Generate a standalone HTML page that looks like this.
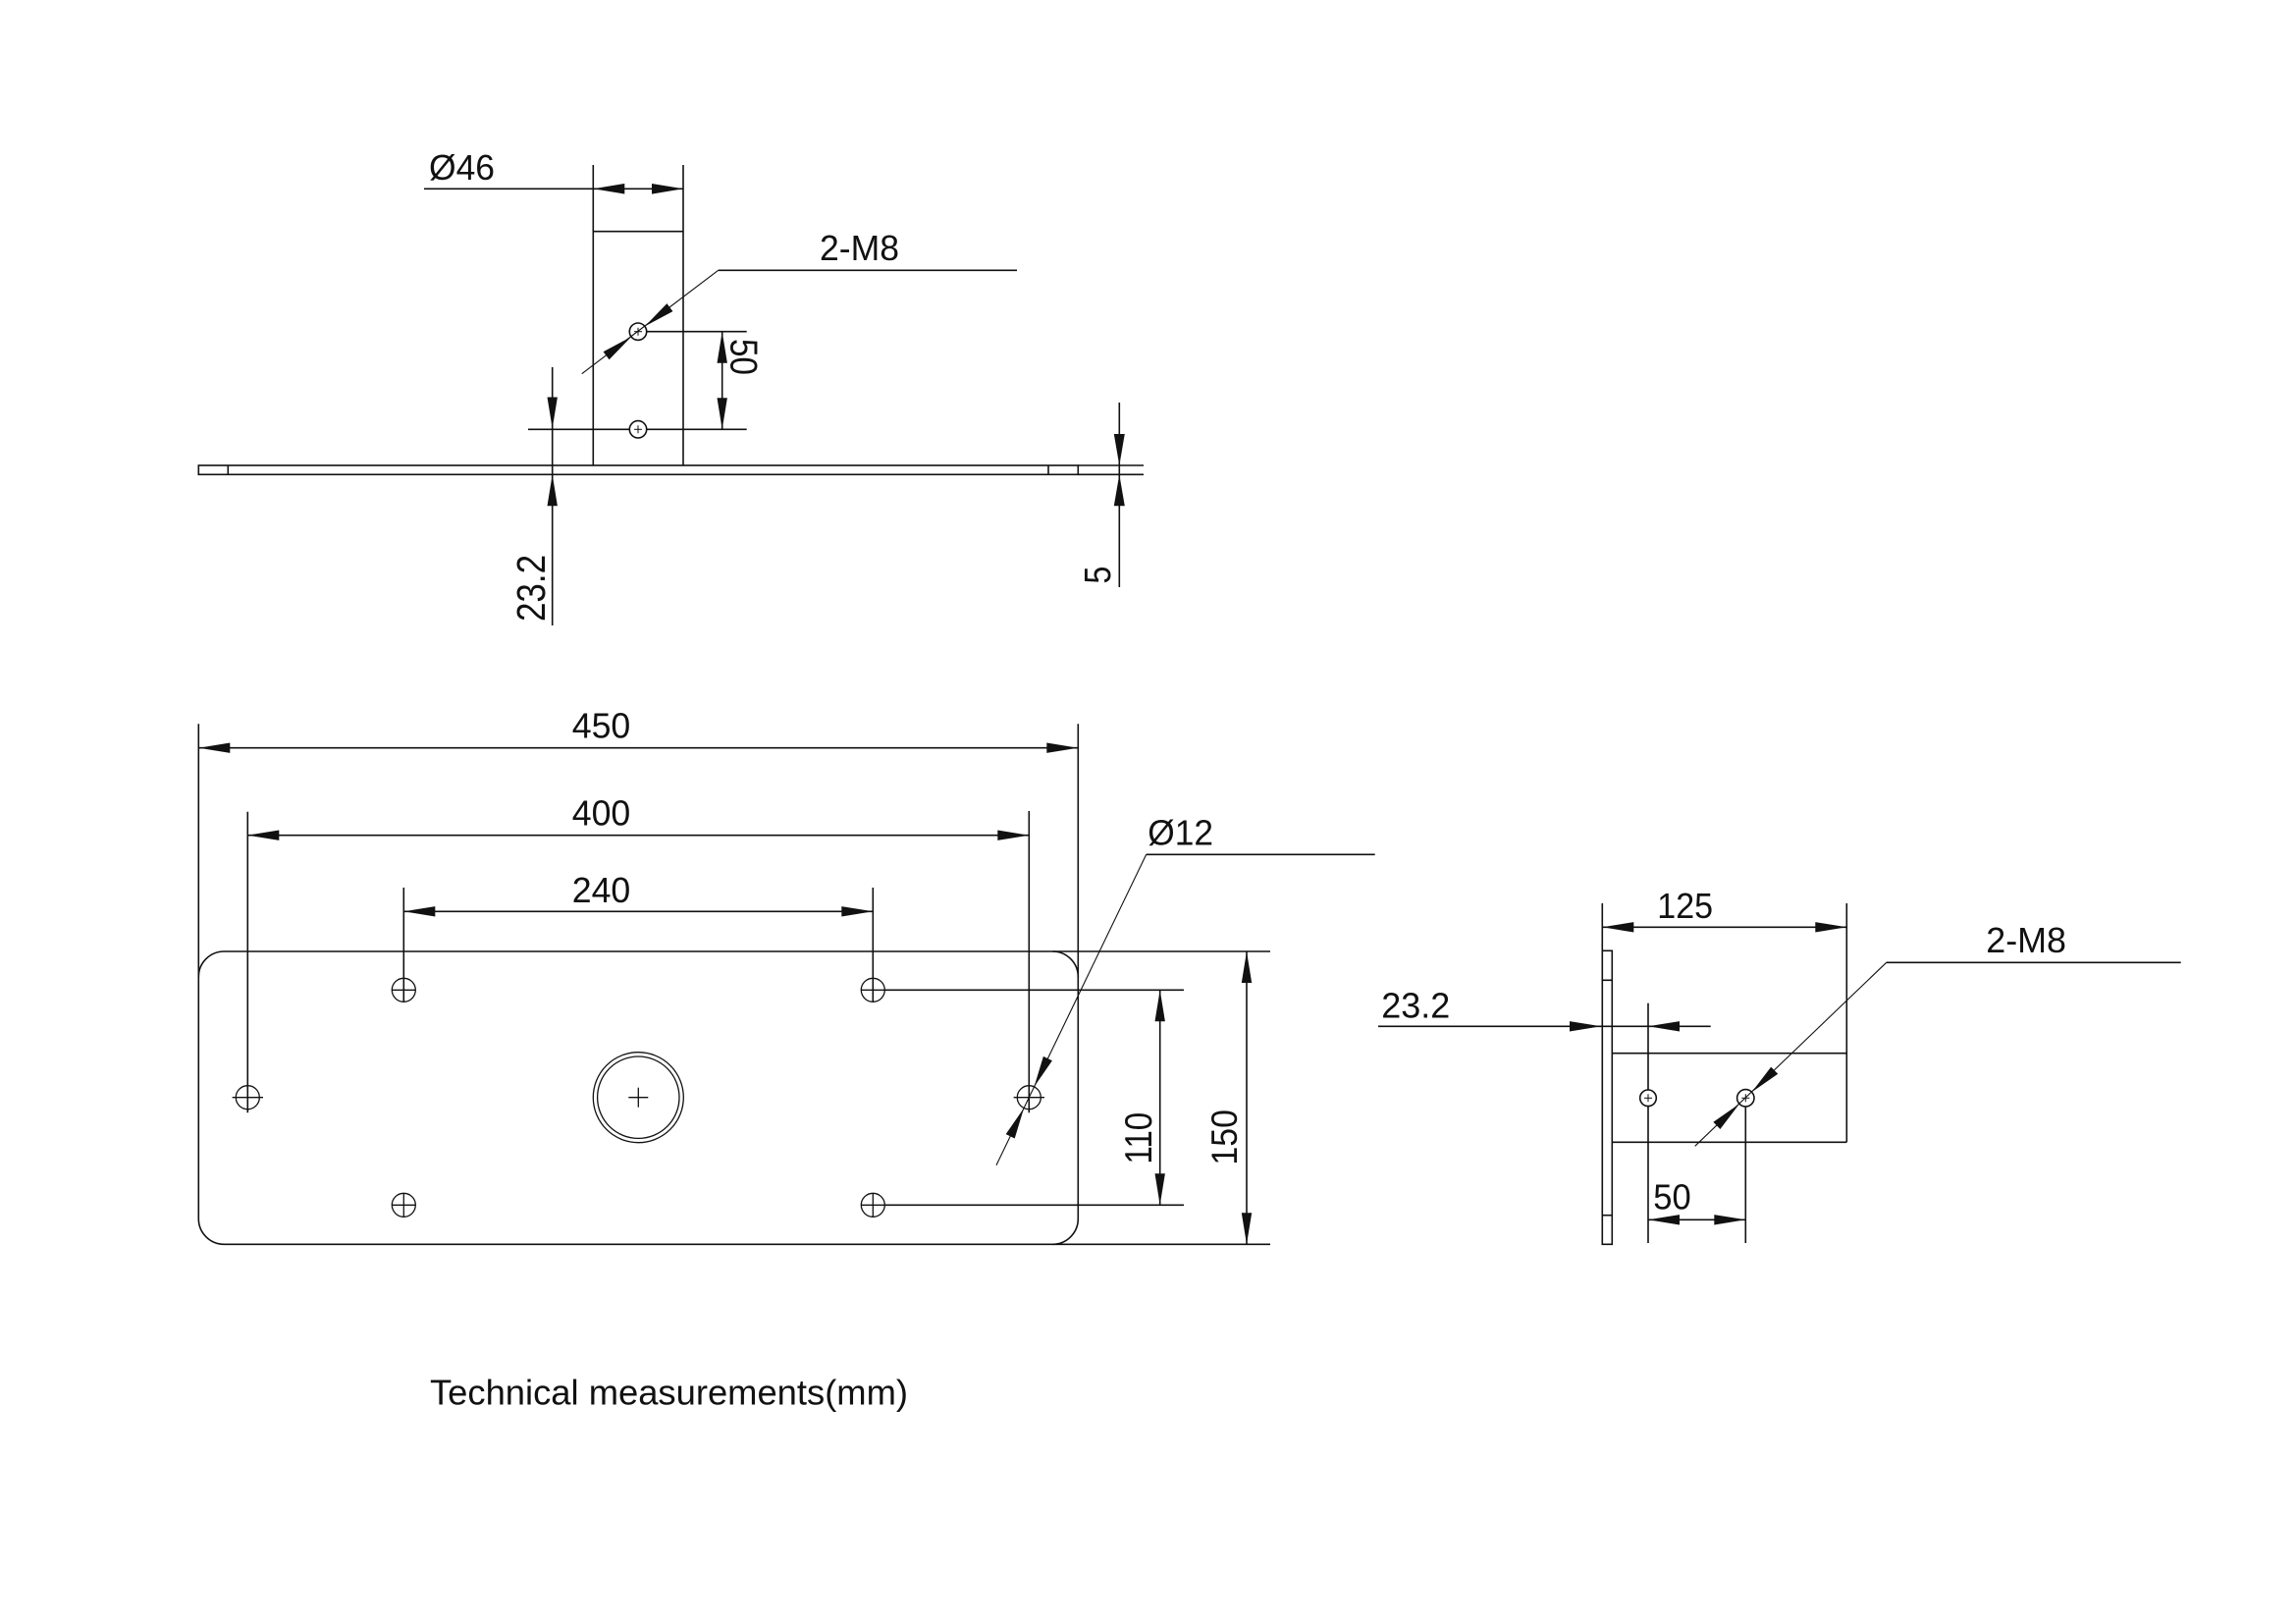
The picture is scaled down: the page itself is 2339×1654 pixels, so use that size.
<!DOCTYPE html>
<html>
<head>
<meta charset="utf-8">
<style>
  html, body { margin: 0; padding: 0; background: #fff; }
  svg { display: block; }
  text { font-family: "Liberation Sans", Arial, sans-serif; font-size: 35.7px; fill: #111; }
</style>
</head>
<body>
<svg width="2339" height="1654" viewBox="0 0 2339 1654" xmlns="http://www.w3.org/2000/svg">
<rect width="2339" height="1654" fill="#fff"/>
<g stroke="#111" stroke-width="1.6" fill="none">
  <!-- ===== TOP VIEW ===== -->
  <line x1="432" y1="192.3" x2="696" y2="192.3"/>
  <line x1="604.3" y1="168" x2="604.3" y2="474"/>
  <line x1="696" y1="168" x2="696" y2="474"/>
  <line x1="604.3" y1="235.7" x2="696" y2="235.7"/>
  <line x1="731.7" y1="275.3" x2="1036" y2="275.3"/>
  <line x1="731.7" y1="275.3" x2="592.7" y2="380.7" stroke-width="1.1"/>
  <circle cx="650" cy="337.7" r="8.7"/>
  <circle cx="650" cy="437.3" r="8.7"/>
  <g stroke-width="1">
    <line x1="646" y1="337.7" x2="654" y2="337.7"/><line x1="650" y1="333.7" x2="650" y2="341.7"/>
    <line x1="646" y1="437.3" x2="654" y2="437.3"/><line x1="650" y1="433.3" x2="650" y2="441.3"/>
  </g>
  <line x1="659" y1="337.7" x2="760.7" y2="337.7"/>
  <line x1="538" y1="437.3" x2="641.3" y2="437.3"/>
  <line x1="658.7" y1="437.3" x2="760.7" y2="437.3"/>
  <line x1="735.7" y1="337.7" x2="735.7" y2="437.3"/>
  <line x1="562.7" y1="374" x2="562.7" y2="637"/>
  <rect x="202.3" y="474" width="896" height="9.3"/>
  <line x1="1098.3" y1="474" x2="1165" y2="474"/>
  <line x1="1098.3" y1="483.3" x2="1165" y2="483.3"/>
  <line x1="232.3" y1="474" x2="232.3" y2="483.3"/>
  <line x1="1068" y1="474" x2="1068" y2="483.3"/>
  <line x1="1140.3" y1="410" x2="1140.3" y2="598"/>

  <!-- ===== PLAN VIEW ===== -->
  <path d="M228.3,969 H1072.3 A26,26 0 0 1 1098.3,995 V1241.3 A26,26 0 0 1 1072.3,1267.3 H228.3 A26,26 0 0 1 202.3,1241.3 V995 A26,26 0 0 1 228.3,969 Z"/>
  <line x1="202.3" y1="737.3" x2="202.3" y2="995"/>
  <line x1="1098.3" y1="737.3" x2="1098.3" y2="995"/>
  <line x1="1072.3" y1="969" x2="1294" y2="969"/>
  <line x1="1072.3" y1="1267.3" x2="1294" y2="1267.3"/>
  <line x1="202.3" y1="761.7" x2="1098.3" y2="761.7"/>
  <line x1="252.3" y1="850.7" x2="1048.3" y2="850.7"/>
  <line x1="252.3" y1="826.7" x2="252.3" y2="1133.3"/>
  <line x1="1048.3" y1="826" x2="1048.3" y2="1133.3"/>
  <line x1="411.3" y1="928.3" x2="889.3" y2="928.3"/>
  <line x1="411.3" y1="904" x2="411.3" y2="1020.3"/>
  <line x1="889.3" y1="904" x2="889.3" y2="1020.3"/>
  <g stroke-width="1.3">
    <circle cx="411.3" cy="1008.3" r="12"/>
    <circle cx="889.3" cy="1008.3" r="12"/>
    <circle cx="411.3" cy="1227.3" r="12"/>
    <circle cx="889.3" cy="1227.3" r="12"/>
    <circle cx="252.3" cy="1117.7" r="12"/>
    <circle cx="1048.3" cy="1117.7" r="12"/>
    <line x1="399.3" y1="1008.3" x2="423.3" y2="1008.3"/>
    <line x1="877.3" y1="1008.3" x2="901.3" y2="1008.3"/>
    <line x1="399.3" y1="1227.3" x2="423.3" y2="1227.3"/><line x1="411.3" y1="1215.3" x2="411.3" y2="1239.3"/>
    <line x1="877.3" y1="1227.3" x2="901.3" y2="1227.3"/><line x1="889.3" y1="1215.3" x2="889.3" y2="1239.3"/>
    <line x1="236.6" y1="1117.7" x2="268" y2="1117.7"/>
    <line x1="1032.6" y1="1117.7" x2="1064" y2="1117.7"/>
    <circle cx="650.3" cy="1117.7" r="46"/>
    <circle cx="650.3" cy="1117.7" r="41.7"/>
    <line x1="640.3" y1="1117.7" x2="660.3" y2="1117.7"/>
    <line x1="650.3" y1="1107.7" x2="650.3" y2="1127.7"/>
  </g>
  <line x1="901" y1="1008.3" x2="1206" y2="1008.3"/>
  <line x1="901" y1="1227.3" x2="1206" y2="1227.3"/>
  <line x1="1181.7" y1="1008.3" x2="1181.7" y2="1227.3"/>
  <line x1="1270" y1="969" x2="1270" y2="1267.3"/>
  <line x1="1167.7" y1="870.3" x2="1400.7" y2="870.3"/>
  <line x1="1167.7" y1="870.3" x2="1015" y2="1186.7" stroke-width="1.1"/>

  <!-- ===== RIGHT VIEW ===== -->
  <rect x="1632.3" y="968.3" width="10" height="299"/>
  <line x1="1632.3" y1="998.3" x2="1642.3" y2="998.3"/>
  <line x1="1632.3" y1="1237.7" x2="1642.3" y2="1237.7"/>
  <line x1="1632.3" y1="920" x2="1632.3" y2="968.3"/>
  <line x1="1881.3" y1="920" x2="1881.3" y2="1163.3"/>
  <line x1="1632.3" y1="944.3" x2="1881.3" y2="944.3"/>
  <line x1="1642.3" y1="1072.7" x2="1881.3" y2="1072.7"/>
  <line x1="1642.3" y1="1163.3" x2="1881.3" y2="1163.3"/>
  <line x1="1404" y1="1045.3" x2="1742.7" y2="1045.3"/>
  <line x1="1679" y1="1021.7" x2="1679" y2="1110"/>
  <line x1="1679" y1="1126.6" x2="1679" y2="1266"/>
  <line x1="1778.3" y1="1127" x2="1778.3" y2="1266"/>
  <circle cx="1679" cy="1118.3" r="8.3"/>
  <circle cx="1778.3" cy="1118.3" r="8.7"/>
  <g stroke-width="1">
    <line x1="1675" y1="1118.3" x2="1683" y2="1118.3"/><line x1="1679" y1="1114.3" x2="1679" y2="1122.3"/>
    <line x1="1774.3" y1="1118.3" x2="1782.3" y2="1118.3"/><line x1="1778.3" y1="1114.3" x2="1778.3" y2="1122.3"/>
  </g>
  <line x1="1679" y1="1242.3" x2="1778.3" y2="1242.3"/>
  <line x1="1921.7" y1="980.3" x2="2221.7" y2="980.3"/>
  <line x1="1921.7" y1="980.3" x2="1726.7" y2="1167.3" stroke-width="1.1"/>
</g>

<!-- ===== ARROWHEADS ===== -->
<g fill="#111" stroke="none">
  <!-- top view -->
  <polygon points="604.3,192.3 636.3,187 636.3,197.6"/>
  <polygon points="696,192.3 664,187 664,197.6"/>
  <polygon points="656.9,332.4 685.4,317.1 679.4,309.1"/>
  <polygon points="643.1,343 620.6,366.3 614.6,358.3"/>
  <polygon points="735.7,337.7 730.5,369.7 740.9,369.7"/>
  <polygon points="735.7,437.3 730.5,405.3 740.9,405.3"/>
  <polygon points="562.7,436.5 557.5,404.5 567.9,404.5"/>
  <polygon points="562.7,483.3 557.5,515.3 567.9,515.3"/>
  <polygon points="1140.3,474 1134.8,442 1145.8,442"/>
  <polygon points="1140.3,483.3 1134.8,515.3 1145.8,515.3"/>
  <!-- plan view -->
  <polygon points="202.3,761.7 234.3,756.5 234.3,766.9"/>
  <polygon points="1098.3,761.7 1066.3,756.5 1066.3,766.9"/>
  <polygon points="252.3,850.7 284.3,845.5 284.3,855.9"/>
  <polygon points="1048.3,850.7 1016.3,845.5 1016.3,855.9"/>
  <polygon points="411.3,928.3 443.3,923.1 443.3,933.5"/>
  <polygon points="889.3,928.3 857.3,923.1 857.3,933.5"/>
  <polygon points="1181.7,1008.3 1176.5,1040.3 1186.9,1040.3"/>
  <polygon points="1181.7,1227.3 1176.5,1195.3 1186.9,1195.3"/>
  <polygon points="1270,969 1264.8,1001 1275.2,1001"/>
  <polygon points="1270,1267.3 1264.8,1235.3 1275.2,1235.3"/>
  <polygon points="1053.5,1106.9 1071.9,1080.3 1062.9,1075.9"/>
  <polygon points="1043.1,1128.5 1033.7,1159.5 1024.7,1155.1"/>
  <!-- right view -->
  <polygon points="1632.3,944.3 1664.3,939.1 1664.3,949.5"/>
  <polygon points="1881.3,944.3 1849.3,939.1 1849.3,949.5"/>
  <polygon points="1631,1045.3 1599,1040.1 1599,1050.5"/>
  <polygon points="1679,1045.3 1711,1040.1 1711,1050.5"/>
  <polygon points="1679,1242.3 1711,1237.1 1711,1247.5"/>
  <polygon points="1778.3,1242.3 1746.3,1237.1 1746.3,1247.5"/>
  <polygon points="1784.6,1112.3 1811.2,1093.8 1804.2,1086.6"/>
  <polygon points="1772,1124.3 1752.4,1150 1745.4,1142.8"/>
</g>

<!-- ===== TEXT ===== -->
<text x="437" y="183" textLength="67" lengthAdjust="spacingAndGlyphs">Ø46</text>
<text x="835" y="265" textLength="81" lengthAdjust="spacingAndGlyphs">2-M8</text>
<g transform="translate(758.5,363.5) rotate(90) scale(0.93,1.1)"><text x="0" y="12.8" text-anchor="middle">50</text></g>
<g transform="translate(540.5,599) rotate(-90) scale(0.98,1.14)"><text x="0" y="12.8" text-anchor="middle">23.2</text></g>
<g transform="translate(1117.5,585.5) rotate(-90) scale(0.9,1.06)"><text x="0" y="12.8" text-anchor="middle">5</text></g>

<text x="612.5" y="751.7" text-anchor="middle">450</text>
<text x="612.5" y="840.7" text-anchor="middle">400</text>
<text x="612.5" y="919" text-anchor="middle">240</text>
<text x="1169.3" y="860.7" textLength="66.7" lengthAdjust="spacingAndGlyphs">Ø12</text>
<g transform="translate(1158.8,1159.2) rotate(-90) scale(0.93,1.09)"><text x="0" y="12.8" text-anchor="middle">110</text></g>
<g transform="translate(1246.7,1158.3) rotate(-90) scale(0.95,1.05)"><text x="0" y="12.8" text-anchor="middle">150</text></g>

<text x="1688.3" y="935" textLength="56.7" lengthAdjust="spacingAndGlyphs">125</text>
<text x="1407.3" y="1036.7" textLength="70" lengthAdjust="spacingAndGlyphs">23.2</text>
<text x="1684.3" y="1231.7" textLength="38.4" lengthAdjust="spacingAndGlyphs">50</text>
<text x="2023.3" y="970" textLength="81.7" lengthAdjust="spacingAndGlyphs">2-M8</text>

<text x="438" y="1430.5" textLength="487" lengthAdjust="spacingAndGlyphs">Technical measurements(mm)</text>
</svg>
</body>
</html>
